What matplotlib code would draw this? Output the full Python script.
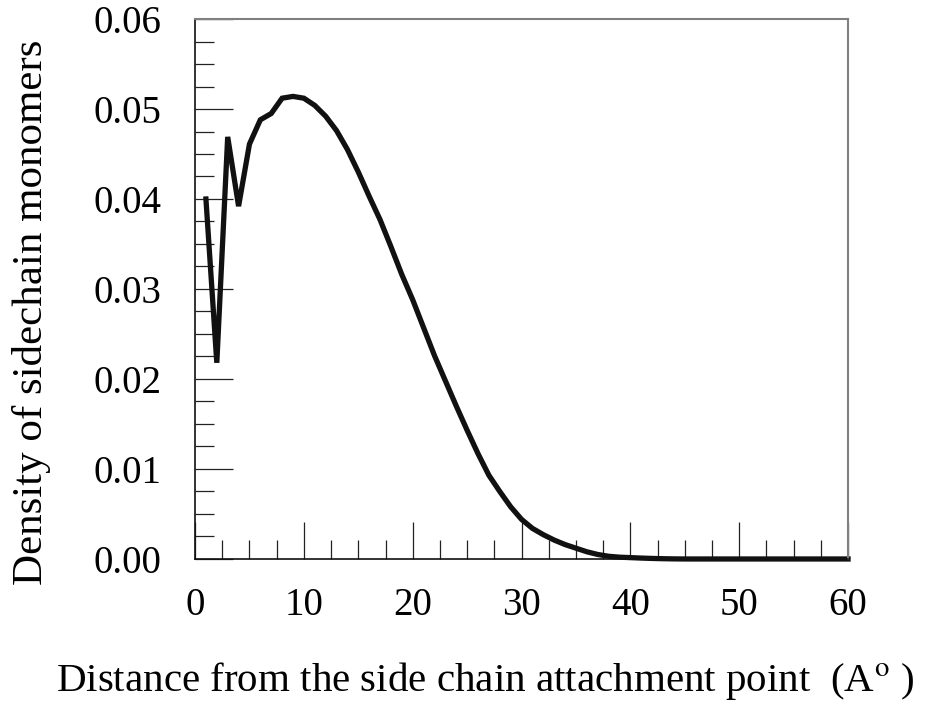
import matplotlib
matplotlib.use('Agg')
import matplotlib.pyplot as plt
from matplotlib.ticker import MultipleLocator, FormatStrFormatter

plt.rcParams['font.family'] = ['Liberation Serif', 'DejaVu Serif']
plt.rcParams['mathtext.fontset'] = 'stix'

# distance from attachment point (A) vs density of sidechain monomers
distance = list(range(1, 61))
density = [0.0400, 0.0218, 0.0469, 0.0392, 0.0461, 0.0488, 0.0495, 0.0512, 0.0514, 0.0512,
           0.0504, 0.0492, 0.0476, 0.0455, 0.0430, 0.0403, 0.0377, 0.0347, 0.0316, 0.0288,
           0.0257, 0.0226, 0.0198, 0.0170, 0.0143, 0.0117, 0.0093, 0.0075, 0.0058, 0.0044,
           0.0034, 0.0027, 0.0021, 0.0016, 0.0012, 0.0008, 0.0005, 0.0003, 0.0002, 0.00015,
           0.0001, 0.00006, 0.00003, 0.00001, 0.0, 0.0, 0.0, 0.0, 0.0, 0.0,
           0.0, 0.0, 0.0, 0.0, 0.0, 0.0, 0.0, 0.0, 0.0, 0.0]

fig = plt.figure(figsize=(9.31, 7.04), dpi=100)
ax = fig.add_axes([0.2095, 0.206, 0.7014, 0.767])

ax.plot(distance, density, color='#111111', lw=3.8, clip_on=False, solid_joinstyle='miter')

ax.set_xlim(0, 60)
ax.set_ylim(0, 0.06)
ax.xaxis.set_major_locator(MultipleLocator(10))
ax.xaxis.set_minor_locator(MultipleLocator(2.5))
ax.yaxis.set_major_locator(MultipleLocator(0.01))
ax.yaxis.set_minor_locator(MultipleLocator(0.0025))
ax.yaxis.set_major_formatter(FormatStrFormatter('%.2f'))

ax.tick_params(which='both', direction='in', top=False, right=False, color='#222222', width=0.9)
ax.tick_params(which='major', length=27)
ax.tick_params(which='minor', length=14)
ax.tick_params(axis='x', which='major', labelsize=28, pad=20)
ax.tick_params(axis='y', which='major', labelsize=28, pad=24)

for s in ['top', 'right']:
    ax.spines[s].set_color('#808080')
    ax.spines[s].set_linewidth(1.5)
for s in ['left', 'bottom']:
    ax.spines[s].set_color('#111111')
    ax.spines[s].set_linewidth(1.2)

ax.set_ylabel('Density of sidechain monomers', fontsize=31, ha='center', va='center')
ax.yaxis.set_label_coords(-0.25, 0.456)
ax.set_xlabel(r'Distance from the side chain attachment point  (A$^{\mathrm{o}}$ )', fontsize=29.5,
              ha='center', va='baseline')
ax.xaxis.set_label_coords(0.445, -0.245)

fig.savefig('out.png', dpi=100)
